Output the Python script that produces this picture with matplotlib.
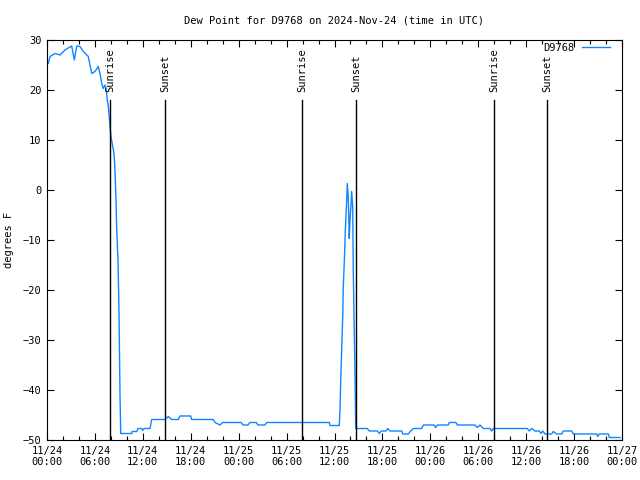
import matplotlib
matplotlib.use('Agg')
import matplotlib.pyplot as plt
from matplotlib.ticker import MultipleLocator

# hours since 2024-11-24 00:00 UTC and dew point (F)
hours = [0.16, 0.38, 1.0, 1.63, 2.25, 3.09, 3.42, 3.72, 4.13, 4.55, 5.17, 5.6, 6.01, 6.42,
         6.64, 6.85, 7.05, 7.26, 7.40, 7.55, 7.68, 7.89, 8.01, 8.23, 8.39, 8.51, 8.64, 8.73,
         8.89, 9.02, 9.14, 9.23, 10.61, 10.65, 11.23, 11.39, 11.86, 11.98, 12.15, 12.9, 13.11,
         14.78, 15.19, 15.61, 16.44, 16.65, 17.99, 18.12, 20.82, 21.04, 21.66, 22.0, 24.3,
         24.54, 25.17, 25.4, 26.2, 26.42, 27.3, 27.5, 35.35, 35.44, 36.6, 36.69, 36.78, 36.9,
         37.03, 37.1, 37.23, 37.35, 37.53, 37.6, 37.73, 37.85, 37.94, 38.07, 38.15, 38.28,
         38.35, 38.57, 38.66, 40.11, 40.36, 41.36, 41.61, 41.85, 42.45, 42.66, 42.95, 44.42,
         44.54, 45.24, 45.54, 45.87, 46.92, 47.12, 48.46, 48.67, 48.87, 50.25, 50.38, 51.21,
         51.38, 53.59, 53.88, 54.22, 54.63, 55.47, 55.68, 55.89, 60.14, 60.39, 60.69, 61.11,
         61.65, 61.86, 62.07, 62.36, 63.2, 63.4, 63.82, 64.45, 64.65, 65.7, 65.9, 68.83,
         68.96, 69.16, 70.29, 70.41, 71.75]
dewpt = [25.3, 26.7, 27.3, 27.0, 28.0, 28.8, 26.0, 28.8, 28.7, 27.7, 26.7, 23.3, 23.7, 24.7,
         23.3, 21.3, 20.3, 21.0, 20.3, 18.0, 16.7, 12.7, 10.7, 8.7, 7.4, 4.0, -2.0, -8.0,
         -14.0, -24.7, -40.7, -48.7, -48.7, -48.3, -48.3, -47.7, -47.7, -48.1, -47.7, -47.7, -45.9,
         -45.9, -45.3, -45.9, -45.9, -45.2, -45.2, -45.9, -45.9, -46.5, -47.0, -46.5, -46.5,
         -47.0, -47.0, -46.5, -46.5, -47.0, -47.0, -46.5, -46.5, -47.1, -47.1, -44.0, -38.0, -32.0,
         -25.3, -19.3, -14.3, -8.3, -2.0, 1.3, -1.7, -9.7, -6.0, -3.0, -0.3, -3.3,
         -16.0, -37.3, -47.7, -47.7, -48.2, -48.2, -48.7, -48.2, -48.2, -47.7, -48.2, -48.2,
         -48.8, -48.8, -48.2, -47.7, -47.7, -47.0, -47.0, -47.5, -47.0, -47.0, -46.5, -46.5,
         -47.0, -47.0, -47.5, -47.0, -47.7, -47.7, -48.2, -47.7, -47.7, -48.2, -47.7, -48.2,
         -48.2, -48.7, -48.2, -48.8, -48.8, -48.3, -48.8, -48.8, -48.2, -48.2, -48.8, -48.8,
         -49.3, -48.8, -48.8, -49.5, -49.5]

sun_times = [7.89, 14.78, 31.93, 38.70, 55.97, 62.62]
sun_labels = ['Sunrise', 'Sunset', 'Sunrise', 'Sunset', 'Sunrise', 'Sunset']

tick_labels = ['11/24\n00:00', '11/24\n06:00', '11/24\n12:00', '11/24\n18:00',
               '11/25\n00:00', '11/25\n06:00', '11/25\n12:00', '11/25\n18:00',
               '11/26\n00:00', '11/26\n06:00', '11/26\n12:00', '11/26\n18:00',
               '11/27\n00:00']

plt.rcParams['font.family'] = 'DejaVu Sans Mono'
plt.rcParams['font.size'] = 7.5

fig = plt.figure(figsize=(6.4, 4.8), dpi=100)
ax = fig.add_axes([47/640, 40/480, 575/640, 400/480])

ax.plot(hours, dewpt, color='#0f86ff', linewidth=1.0, label='D9768')

for t, lab in zip(sun_times, sun_labels):
    ax.plot([t, t], [-50, 18], color='black', linewidth=1.0)
    ax.text(t, 19.5, lab, rotation=90, ha='center', va='bottom', fontsize=7.5)

ax.set_xlim(0, 72)
ax.set_ylim(-50, 30)
ax.set_xticks(range(0, 73, 6))
ax.set_xticklabels(tick_labels)
ax.xaxis.set_minor_locator(MultipleLocator(2))
ax.set_yticks(range(-50, 31, 10))
ax.tick_params(which='both', direction='in', top=True, right=True, width=0.8)
ax.tick_params(which='major', length=5, pad=4)
ax.tick_params(which='minor', length=3)

ax.set_title('Dew Point for D9768 on 2024-Nov-24 (time in UTC)', fontsize=7.5, pad=12)
ax.set_ylabel('degrees F', labelpad=6)

ax.legend(loc='upper right', frameon=False, markerfirst=False, handlelength=2.7,
          handletextpad=0.7, borderpad=0, borderaxespad=0,
          bbox_to_anchor=(1 - 12/575, 1 - 3/400), fontsize=7.5)

plt.savefig('out.png', dpi=100)
